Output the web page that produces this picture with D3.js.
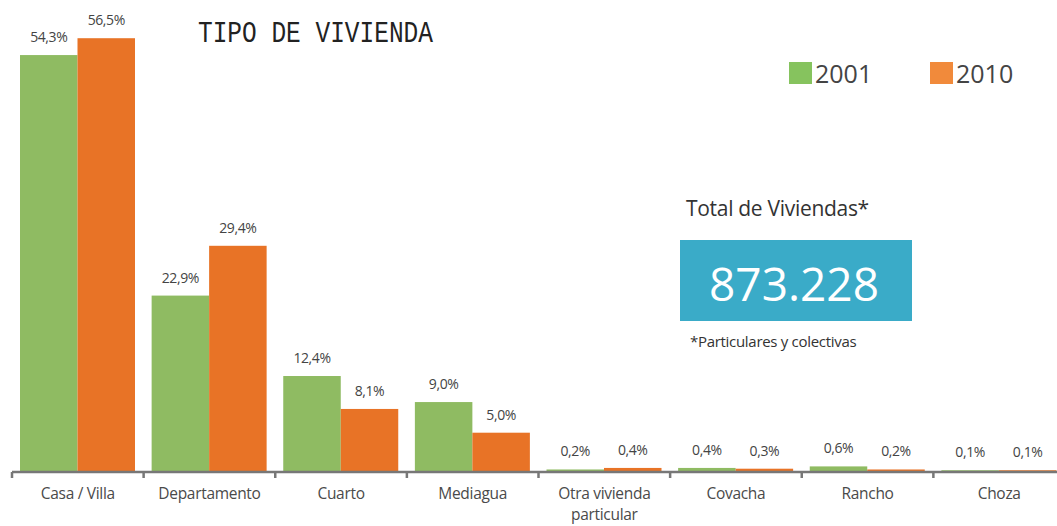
<!DOCTYPE html>
<html>
<head>
  <meta charset="UTF-8">
  <title>Tipo de vivienda</title>
  <style>
    body { margin: 0; background: #fff; }
    text { font-family: 'Open Sans', sans-serif; }
    .axis path, .axis line { stroke: #777; stroke-width: 2.5; }
    .axis text { fill: #4a4a4a; font-size: 15.5px; letter-spacing: -0.3px; }
  </style>
</head>
<body>
<svg id="chart"></svg>
<script src="https://cdnjs.cloudflare.com/ajax/libs/d3/7.8.5/d3.min.js"></script>
<script>

const width = 1057, height = 526;

// data
const categories = ["Casa / Villa", "Departamento", "Cuarto", "Mediagua", "Otra vivienda particular", "Covacha", "Rancho", "Choza"];
const years = ["2001", "2010"];
const values2001 = [54.3, 22.9, 12.4, 9.0, 0.2, 0.4, 0.6, 0.1];
const values2010 = [56.5, 29.4, 8.1, 5.0, 0.4, 0.3, 0.2, 0.1];
const totalViviendas = "873.228";

const barColors = ["#8fbb62", "#e87326"];
const legendColors = ["#86c35e", "#f18a3b"];

let svg = d3.select("#chart")
    .attr("width", width)
    .attr("height", height);

let x = d3.scaleBand()
    .domain(categories)
    .range([12, 1065]);

let xInner = d3.scaleBand()
    .domain(years)
    .range([8, 123]);

let y = d3.scaleLinear()
    .domain([0, 60])
    .range([471, 11.4]);

const series = [values2001, values2010];

// bars
categories.forEach(function (cat, i) {
    let g = svg.append("g")
        .attr("transform", "translate(" + x(cat) + ",0)");
    years.forEach(function (yr, j) {
        let v = series[j][i];
        g.append("rect")
            .attr("x", xInner(yr))
            .attr("y", y(v))
            .attr("width", xInner.bandwidth())
            .attr("height", y(0) - y(v))
            .style("fill", barColors[j]);
        g.append("text")
            .attr("x", xInner(yr) + xInner.bandwidth() / 2)
            .attr("y", y(v) - 13)
            .attr("text-anchor", "middle")
            .style("font-size", "14px")
            .style("letter-spacing", "-0.4px")
            .style("fill", "#444")
            .text(v.toFixed(1).replace(".", ",") + "%");
    });
});

// axis
let xAxis = d3.axisBottom(x).tickSize(0).tickPadding(16);
let axisG = svg.append("g")
    .attr("class", "axis")
    .attr("transform", "translate(0,472)")
    .call(xAxis);
axisG.select(".domain").attr("d", "M12,0H1065");

// tick marks at band edges
axisG.selectAll(".edge")
    .data(categories)
    .enter()
    .append("line")
    .attr("class", "edge")
    .attr("x1", d => x(d))
    .attr("x2", d => x(d))
    .attr("y1", 0)
    .attr("y2", 6);

// wrap the long label
axisG.selectAll(".tick text").each(function (d) {
    if (d === "Otra vivienda particular") {
        let t = d3.select(this).text(null);
        t.append("tspan").attr("x", 0).attr("dy", "0.71em").text("Otra vivienda");
        t.append("tspan").attr("x", 0).attr("dy", "1.35em").text("particular");
        t.attr("dy", null);
    }
});

// title
svg.append("text")
    .attr("x", 198)
    .attr("y", 42)
    .attr("textLength", 235)
    .attr("lengthAdjust", "spacingAndGlyphs")
    .style("font-family", "'Liberation Mono', monospace")
    .style("font-size", "29px")
    .style("fill", "#222")
    .text("TIPO DE VIVIENDA");

// legend
let legend = svg.append("g");
const legendX = [789, 930];
years.forEach(function (yr, j) {
    legend.append("rect")
        .attr("x", legendX[j])
        .attr("y", 62)
        .attr("width", 23)
        .attr("height", 22)
        .style("fill", legendColors[j]);
    legend.append("text")
        .attr("x", legendX[j] + 26)
        .attr("y", 83)
        .style("font-size", "25px")
        .style("fill", "#444")
        .text(yr);
});

// total box
svg.append("text")
    .attr("x", 686)
    .attr("y", 216)
    .style("font-size", "21px")
    .style("letter-spacing", "-0.3px")
    .style("fill", "#333")
    .text("Total de Viviendas*");

svg.append("rect")
    .attr("x", 680)
    .attr("y", 240)
    .attr("width", 232)
    .attr("height", 81)
    .style("fill", "#3aabc8");

svg.append("text")
    .attr("x", 794)
    .attr("y", 301)
    .attr("text-anchor", "middle")
    .style("font-size", "46px")
    .style("fill", "#fff")
    .text(totalViviendas);

svg.append("text")
    .attr("x", 690)
    .attr("y", 347)
    .style("font-size", "15px")
    .style("letter-spacing", "-0.3px")
    .style("fill", "#333")
    .text("*Particulares y colectivas");

</script>
</body>
</html>
